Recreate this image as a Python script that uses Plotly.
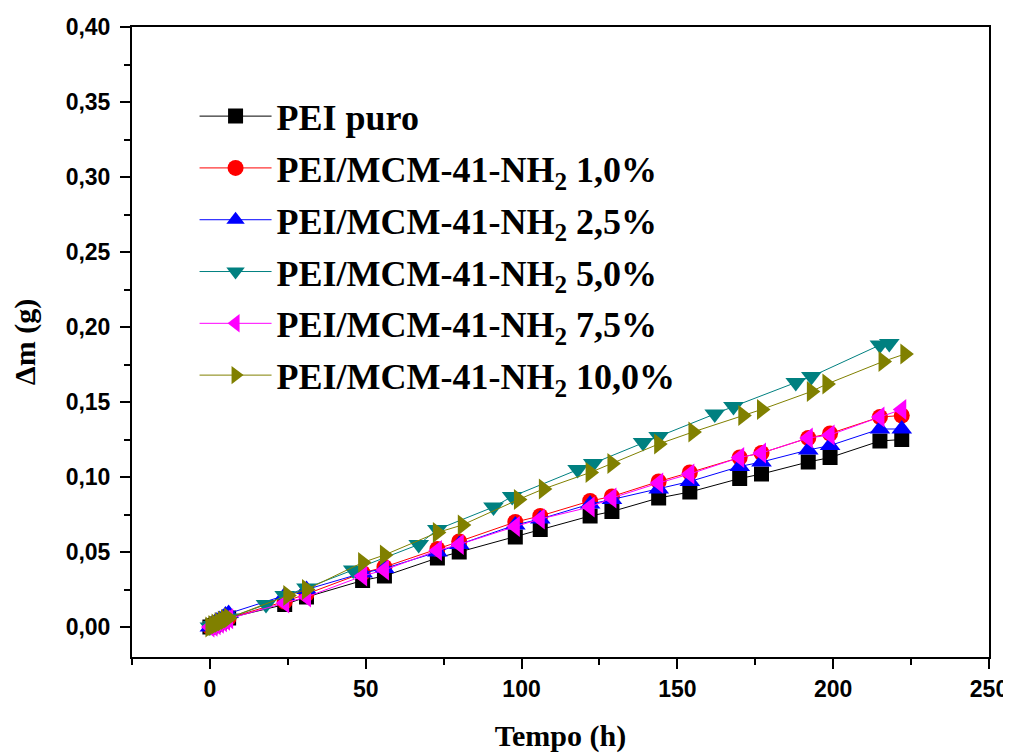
import plotly.graph_objects as go

# Tempo (h) e ganho de massa (g)
tempo_a = [0, 1, 2, 3, 4, 5, 6, 24, 31, 49, 56, 73, 80, 98, 106, 122, 129, 144, 154, 170, 177, 192, 199, 215, 222]
tempo_5 = [0, 1, 2, 3, 4, 5, 6, 18, 24, 31, 46, 67, 73, 91, 97, 118, 123, 139, 144, 162, 168, 188, 193, 215, 218]
tempo_10 = [0, 1, 2, 3, 4, 5, 6, 25, 31, 49, 56, 73, 81, 99, 107, 122, 129, 144, 155, 171, 177, 193, 198, 216, 223]

pei_puro = [0, 0.001, 0.002, 0.003, 0.004, 0.005, 0.006, 0.015, 0.020, 0.031, 0.034, 0.046, 0.050, 0.060, 0.065,
            0.074, 0.077, 0.086, 0.090, 0.099, 0.102, 0.110, 0.113, 0.124, 0.125]
mcm_1_0 = [0, 0.001, 0.002, 0.003, 0.004, 0.005, 0.006, 0.017, 0.022, 0.036, 0.040, 0.052, 0.057, 0.070, 0.074,
           0.084, 0.087, 0.097, 0.103, 0.113, 0.116, 0.126, 0.129, 0.140, 0.141]
mcm_2_5 = [0, 0.002, 0.004, 0.005, 0.006, 0.008, 0.009, 0.021, 0.025, 0.036, 0.039, 0.050, 0.055, 0.068, 0.072,
           0.082, 0.085, 0.092, 0.097, 0.107, 0.110, 0.118, 0.121, 0.132, 0.132]
mcm_5_0 = [0, 0.001, 0.002, 0.003, 0.004, 0.005, 0.006, 0.015, 0.021, 0.026, 0.038, 0.055, 0.065, 0.080, 0.087,
           0.105, 0.109, 0.123, 0.127, 0.142, 0.147, 0.163, 0.167, 0.188, 0.189]
mcm_7_5 = [0, 0.0005, 0.0015, 0.0025, 0.0035, 0.0045, 0.0055, 0.016, 0.020, 0.034, 0.038, 0.051, 0.055, 0.067, 0.072,
           0.080, 0.086, 0.096, 0.102, 0.113, 0.116, 0.126, 0.128, 0.140, 0.145]
mcm_10_0 = [0, 0.001, 0.002, 0.003, 0.004, 0.005, 0.006, 0.021, 0.025, 0.043, 0.048, 0.063, 0.068, 0.085, 0.092,
            0.103, 0.109, 0.122, 0.130, 0.141, 0.145, 0.157, 0.162, 0.177, 0.182]

series = [
    ('PEI puro', tempo_a, pei_puro, 'black', 'square', 15),
    ('PEI/MCM-41-NH<sub>2</sub> 1,0%', tempo_a, mcm_1_0, '#FF0000', 'circle', 16),
    ('PEI/MCM-41-NH<sub>2</sub> 2,5%', tempo_a, mcm_2_5, '#0000FF', 'triangle-up', 18),
    ('PEI/MCM-41-NH<sub>2</sub> 5,0%', tempo_5, mcm_5_0, '#008080', 'triangle-down', 18),
    ('PEI/MCM-41-NH<sub>2</sub> 7,5%', tempo_a, mcm_7_5, '#FF00FF', 'triangle-left', 18),
    ('PEI/MCM-41-NH<sub>2</sub> 10,0%', tempo_10, mcm_10_0, '#808000', 'triangle-right', 18),
]

fig = go.Figure()
for i, (nome, x, y, cor, simbolo, tam) in enumerate(series):
    fig.add_trace(go.Scatter(
        x=x, y=y, name=nome, mode='lines+markers', legendgroup=str(i),
        line=dict(color=cor, width=1),
        marker=dict(symbol=simbolo, color=cor, size=tam),
    ))

eixo = dict(
    showline=True, linecolor='black', linewidth=2, mirror=True,
    showgrid=False, zeroline=False, automargin=False,
    ticks='outside', ticklen=10, tickwidth=2, tickcolor='black',
    tickfont=dict(family='Liberation Sans', size=23, color='black', weight='bold'),
)
fonte_titulo = dict(family='Liberation Serif', size=30, color='black', weight='bold')

# a página tem 8 px de margem no body, por isso a figura é um pouco menor
fig.update_layout(
    width=1003, height=745,
    paper_bgcolor='white', plot_bgcolor='white',
    margin=dict(l=124, r=22, t=19, b=96),
    separators=',.',
    showlegend=True,
    legend=dict(
        x=0.073, y=0.906, xanchor='left', yanchor='top',
        bgcolor='rgba(0,0,0,0)',
        font=dict(family='Liberation Serif', size=36, color='black', weight='bold'),
        tracegroupgap=2, itemwidth=72,
    ),
    xaxis=dict(
        eixo, range=[-25, 250], tickvals=[0, 50, 100, 150, 200, 250],
        minor=dict(ticks='outside', ticklen=6, tickwidth=2, tickcolor='black', dtick=25, tick0=0),
        title=dict(text='Tempo (h)', standoff=26, font=fonte_titulo),
    ),
    yaxis=dict(
        eixo, range=[-0.02, 0.40], tickvals=[0, 0.05, 0.10, 0.15, 0.20, 0.25, 0.30, 0.35, 0.40],
        tickformat='.2f', ticklabelstandoff=5,
        minor=dict(ticks='outside', ticklen=6, tickwidth=2, tickcolor='black', dtick=0.025, tick0=0),
        title=dict(text='Δm (g)', standoff=28, font=fonte_titulo),
    ),
)

fig.write_html('out.html')
